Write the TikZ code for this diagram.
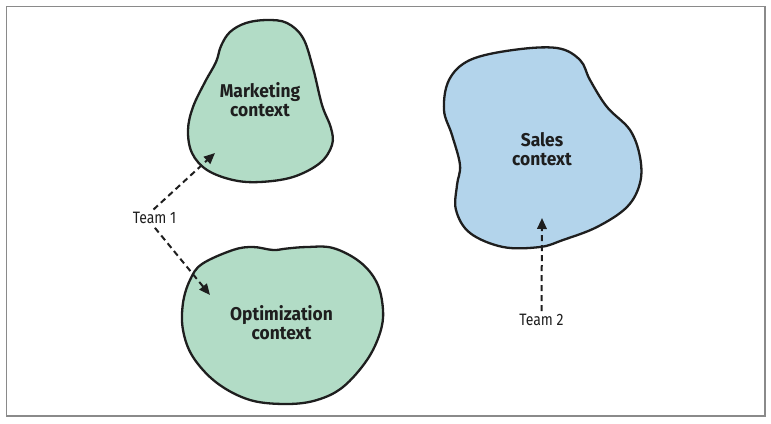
\documentclass[tikz,border=0pt]{standalone}
\usepackage{fontspec}
\setmainfont{Fira Sans}
\newfontfamily\blobfont[FakeStretch=0.94]{Fira Sans}
\newfontfamily\teamfont[FakeStretch=0.85]{Fira Sans}
\usetikzlibrary{arrows.meta}
\definecolor{blobgreen}{HTML}{B2DCC6}
\definecolor{blobblue}{HTML}{B3D4EB}
\definecolor{framegray}{HTML}{8A8A8A}
\definecolor{inkblack}{HTML}{1E1E1E}
\tikzset{
  blob/.style={draw=inkblack, line width=2.3pt, line join=round},
  blobtext/.style={align=center, font=\blobfont\bfseries\fontsize{18.5}{18.8}\selectfont, text=inkblack, inner sep=0pt},
  teamlabel/.style={font=\teamfont\fontsize{16.5}{18}\selectfont, text=inkblack, inner sep=2pt},
  dasharrow/.style={draw=inkblack, line width=2pt, dash pattern=on 6pt off 4pt, -{Triangle[length=11pt,width=9.5pt]}}
}
\begin{document}
\begin{tikzpicture}[x=1pt,y=-1pt]
\useasboundingbox (0,0) rectangle (771,423);
\draw[framegray, line width=1.6pt] (6.5,6.5) rectangle (765,416);

% Marketing blob
\draw[blob, fill=blobgreen] plot[smooth cycle, tension=0.6] coordinates {
 (267,20) (287,23) (303,38) (313,68) (322,105) (331,128) (332,145) (320,163) (293,177) (260,182)
 (233,180) (207,170) (192,153) (188,130) (193,107) (205,82) (216,62) (221,46) (230,32) (246,23)};
% Optimization blob
\draw[blob, fill=blobgreen] plot[smooth cycle, tension=0.6] coordinates {
 (253,247) (273,250) (287,248.5) (307,247) (333,248) (360,262) (377,283) (383,310) (380,333) (367,360)
 (343,387) (317,400) (287,404) (250,400) (217,383) (193,357) (183,330) (183,303) (190,280) (202,264) (233,250)};
% Sales blob
\draw[blob, fill=blobblue] plot[smooth cycle, tension=0.6] coordinates {
 (513,50) (557,48) (580,60) (590,80) (607,107) (630,130) (640,157) (640,183) (627,207) (597,227)
 (563,240) (540,247) (503,247) (470,233) (456,210) (457,185) (460,165) (452,135) (444,110) (449,80) (470,60)};

\node[blobtext] (mkt) at (260,99.5) {Marketing\\context};
\node[blobtext] (opt) at (281.5,323) {Optimization\\context};
\node[blobtext] (sales) at (542,149) {Sales\\context};

\node[teamlabel] (team1) at (154.5,217.5) {Team 1};
\node[teamlabel] (team2) at (541.5,320) {Team 2};

\coordinate (mtip) at (215,153);
\coordinate (otip) at (210,295);
\coordinate (stip) at (542,218);

\draw[dasharrow] ([xshift=-1pt]team1.north) -- (mtip);
\draw[dasharrow, shorten <=3pt] ([xshift=-1.5pt]team1.south) -- (otip);
\draw[dasharrow, shorten <=1pt] (team2.north) -- (stip);
\end{tikzpicture}
\end{document}
